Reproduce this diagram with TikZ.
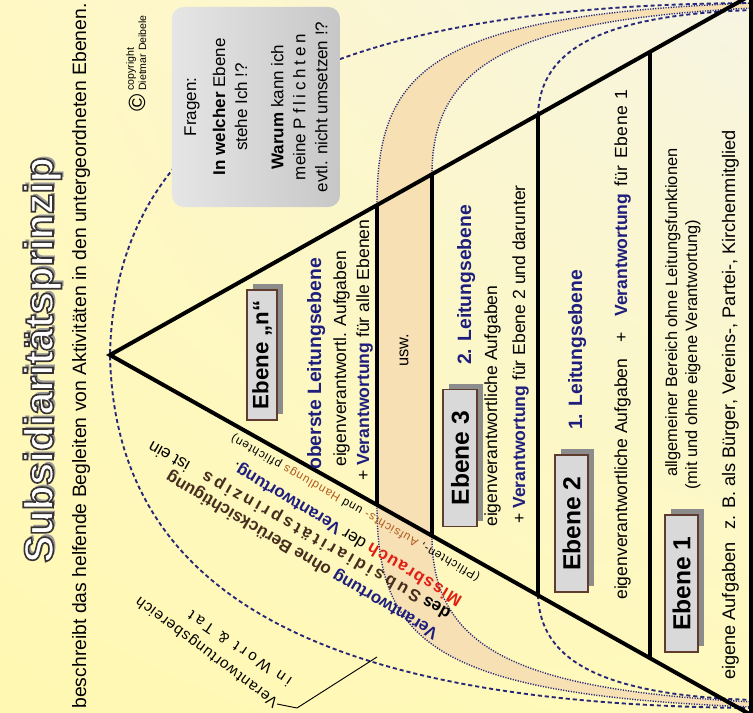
\documentclass[tikz,border=0pt]{standalone}
\usepackage{fontspec}
\setmainfont{Liberation Sans}
\usepackage{graphicx}
\usetikzlibrary{shadows,shadings,calc}

\definecolor{navyblue}{RGB}{30,30,125}
\definecolor{dotblue}{RGB}{40,40,120}
\definecolor{bandtan}{RGB}{246,224,180}
\definecolor{boxbrown}{RGB}{95,60,45}
\definecolor{missred}{RGB}{225,30,20}
\definecolor{darkbrown}{RGB}{70,45,30}
\definecolor{handbrown}{RGB}{175,90,30}
\definecolor{bgul}{RGB}{255,248,196}
\definecolor{bgur}{RGB}{246,244,226}
\definecolor{bgll}{RGB}{255,248,178}
\definecolor{bglr}{RGB}{255,249,188}

\tikzset{
  lvl/.style={rotate=90, anchor=base west, inner sep=0pt, font=\fontsize{15}{18}\selectfont},
  lvlhead/.style={lvl, text=navyblue, font=\fontsize{16.5}{20}\selectfont\bfseries},
  ebenebox/.style={draw=boxbrown, line width=1.2pt, fill=black!15, inner sep=0pt,
    font=\fontsize{21}{21}\selectfont\bfseries,
    drop shadow={shadow xshift=0.17cm, shadow yshift=0.17cm, fill=black!45, opacity=1}},
  edgetext/.style={anchor=west, inner sep=0pt, font=\fontsize{14.5}{17}\selectfont},
  farcurve/.style={dotblue, line width=1.6pt, dash pattern=on 3.5pt off 2.5pt},
  bandcurve/.style={dotblue, line width=1.2pt, dash pattern=on 1pt off 1.2pt},
  thickline/.style={line width=3.4pt, black}
}

\begin{document}
\begin{tikzpicture}[x=0.03cm, y=-0.03cm]
\useasboundingbox (0,0) rectangle (753,713);
\clip (0,0) rectangle (753,713);
\shade[upper left=bgul, upper right=bgur, lower left=bgll, lower right=bglr] (0,0) rectangle (753,713);

% corners of the pyramid and the steps
\coordinate (apex) at (110,355);
\coordinate (ttop) at (753,-6);
\coordinate (tbot) at (753,716);
\coordinate (t1) at (377,205);  \coordinate (b1) at (377,505);
\coordinate (t2) at (432,174);  \coordinate (b2) at (432,536);
\coordinate (t3) at (538,115);  \coordinate (b3) at (538,595);
\coordinate (t4) at (650,52);   \coordinate (b4) at (650,658);

% the usw. band
\fill[bandtan] (t1) .. controls (377,70) and (430,15) .. (753,3) -- (753,8)
  .. controls (520,20) and (432,60) .. (t2) -- (b2)
  .. controls (432,650) and (520,690) .. (753,702) -- (753,707)
  .. controls (430,695) and (377,640) .. (b1) -- cycle;

\draw[farcurve] (753,3) .. controls (330,5) and (115,110) .. (apex)
  .. controls (115,600) and (330,705) .. (753,708);
\draw[bandcurve] (t1) .. controls (377,70) and (430,15) .. (753,3);
\draw[bandcurve] (t2) .. controls (432,60) and (520,20) .. (753,8);
\draw[bandcurve] (b1) .. controls (377,640) and (430,695) .. (753,707);
\draw[bandcurve] (b2) .. controls (432,650) and (520,690) .. (753,702);
\draw[farcurve] (t3) .. controls (540,50) and (600,15) .. (753,10);
\draw[farcurve] (b3) .. controls (540,660) and (600,695) .. (753,700);

% pyramid
\draw[thickline] (ttop) -- (apex) -- (tbot);
\draw[thickline] (751,-6) -- (751,716);
\draw[thickline] (t1) -- (b1);
\draw[thickline] (t2) -- (b2);
\draw[thickline] (t3) -- (b3);
\draw[thickline] (t4) -- (b4);

% title
\node[rotate=90, anchor=base, inner sep=0pt, text=black!40, font=\fontsize{35}{35}\selectfont\bfseries] (titleshadow) at (55.5,358)
  {Subsidiaritätsprinzip};
\node[rotate=90, anchor=base, inner sep=0pt, text=white, font=\fontsize{35}{35}\selectfont\bfseries] (title) at (53,360)
  {\special{pdf:literal direct 2 Tr 1.4 w 0.22 0.2 0.2 RG}Subsidiaritätsprinzip\special{pdf:literal direct 0 Tr}};
\node[rotate=90, anchor=base, inner sep=0pt, font=\fontsize{16.5}{20}\selectfont] (subtitle) at (86,356)
  {beschreibt das helfende Begleiten von Aktivitäten in den untergeordneten Ebenen.};
\node[rotate=90, inner sep=0pt, font=\fontsize{20}{20}\selectfont] (copysym) at (137,103) {©};
\node[rotate=90, anchor=north west, align=left, inner sep=0pt, font=\fontsize{9}{10.5}\selectfont] (copytext) at (126,91)
  {copyright\\Dietmar Deibele};

% questions
\node[rounded corners=0.35cm, left color=black!10, right color=black!22, minimum width=5.04cm, minimum height=6cm] (fragen) at (256,107) {};
\node[rotate=90, align=center, inner sep=0pt, font=\fontsize{14.5}{18.8}\selectfont] (fragentext) at (fragen.center)
  {Fragen:\\[6pt] \textbf{In welcher} Ebene\\ stehe Ich !?\\[12pt] \textbf{Warum} kann ich\\
   meine {\addfontfeature{LetterSpace=22}Pflichten}\\ evtl. nicht umsetzen !?};

% level n
\node[ebenebox, minimum width=0.9cm, minimum height=3.9cm, font=\fontsize{19}{19}\selectfont\bfseries] (ebn) at (262,355) {\rotatebox{90}{Ebene „n“}};
\node[lvlhead] (headn) at (321,470) {oberste Leitungsebene};
\node[lvl] (lvln1) at (346,467) {eigenverantwortl. Aufgaben};
\node[lvl] (lvln2) at (369,481) {+ \textbf{\textcolor{navyblue}{Verantwortung}} für alle Ebenen};
\node[rotate=90, inner sep=0pt, font=\fontsize{14}{14}\selectfont] (usw) at (404,350) {usw.};

% level 3
\node[ebenebox, minimum width=1.02cm, minimum height=4.11cm] (eb3) at (460,458) {\rotatebox{90}{Ebene 3}};
\node[lvlhead] (head3) at (471,365) {2. Leitungsebene};
\node[lvl] (lvl31) at (497,527) {eigenverantwortliche Aufgaben};
\node[lvl] (lvl32) at (525,524) {+ \textbf{\textcolor{navyblue}{Verantwortung}} für Ebene 2 und darunter};

% level 2
\node[ebenebox, minimum width=0.99cm, minimum height=4.11cm] (eb2) at (571.5,523.5) {\rotatebox{90}{Ebene 2}};
\node[lvlhead] (head2) at (582,430) {1. Leitungsebene};
\node[lvl] (lvl21) at (627,600) {eigenverantwortliche Aufgaben\hspace{0.9em}+\hspace{0.9em}\textbf{\textcolor{navyblue}{Verantwortung}}\hspace{0.4em}für\hspace{0.4em}{\addfontfeature{LetterSpace=4}Ebene 1}};

% level 1
\node[ebenebox, minimum width=0.99cm, minimum height=4.11cm] (eb1) at (681.5,583.5) {\rotatebox{90}{Ebene 1}};
\node[lvl, font=\fontsize{14}{16}\selectfont] (lvl11) at (677,477) {allgemeiner Bereich ohne Leitungsfunktionen};
\node[lvl, font=\fontsize{14}{16}\selectfont] (lvl12) at (697,490) {(mit und ohne eigene Verantwortung)};
\node[lvl, font=\fontsize{15.5}{18}\selectfont] (lvl13) at (735,680) {eigene Aufgaben\hspace{0.7em}z. B. als Bürger, Vereins-, Partei-, Kirchenmitglied};

% text along the lower edge
\node[edgetext, rotate=150.3, font=\fontsize{10}{12}\selectfont\addfontfeature{LetterSpace=8}] (edgea) at (479,578)
  {(Pflichten-, \textcolor{handbrown}{Aufsichts-} und \textcolor{handbrown}{Handlungs} pflichten)};
\node[edgetext, rotate=149.2] (edgeb) at (461,601)
  {\textbf{\textcolor{missred}{\addfontfeature{LetterSpace=8}Missbrauch}} der \textbf{\textcolor{navyblue}{Verantwortung}}.};
\node[edgetext, rotate=150.5] (edgec) at (450,614)
  {\textbf{des} \textbf{\textcolor{darkbrown}{\addfontfeature{LetterSpace=20}Subsidiaritätsprinzips}}\quad ist ein};
\node[edgetext, rotate=149.5] (edged) at (437,634)
  {\textbf{\textcolor{navyblue}{Verantwortung}} \textbf{\textcolor{darkbrown}{ohne Berücksichtigung}}};

% responsibility area
\node[rotate=143, anchor=west, inner sep=0pt, font=\fontsize{13}{15}\selectfont\addfontfeature{LetterSpace=6}] (vbereich) at (277,704) {Verantwortungsbereich};
\node[rotate=146, anchor=west, inner sep=0pt, font=\fontsize{13}{15}\selectfont\addfontfeature{LetterSpace=25}] (wort) at (290,683) {in Wort \& Tat};
\coordinate (lead1) at (297,708);
\coordinate (lead2) at (377,657);
\draw[line width=0.8pt] (vbereich.west) -- (lead1) -- (lead2);
\end{tikzpicture}
\end{document}
